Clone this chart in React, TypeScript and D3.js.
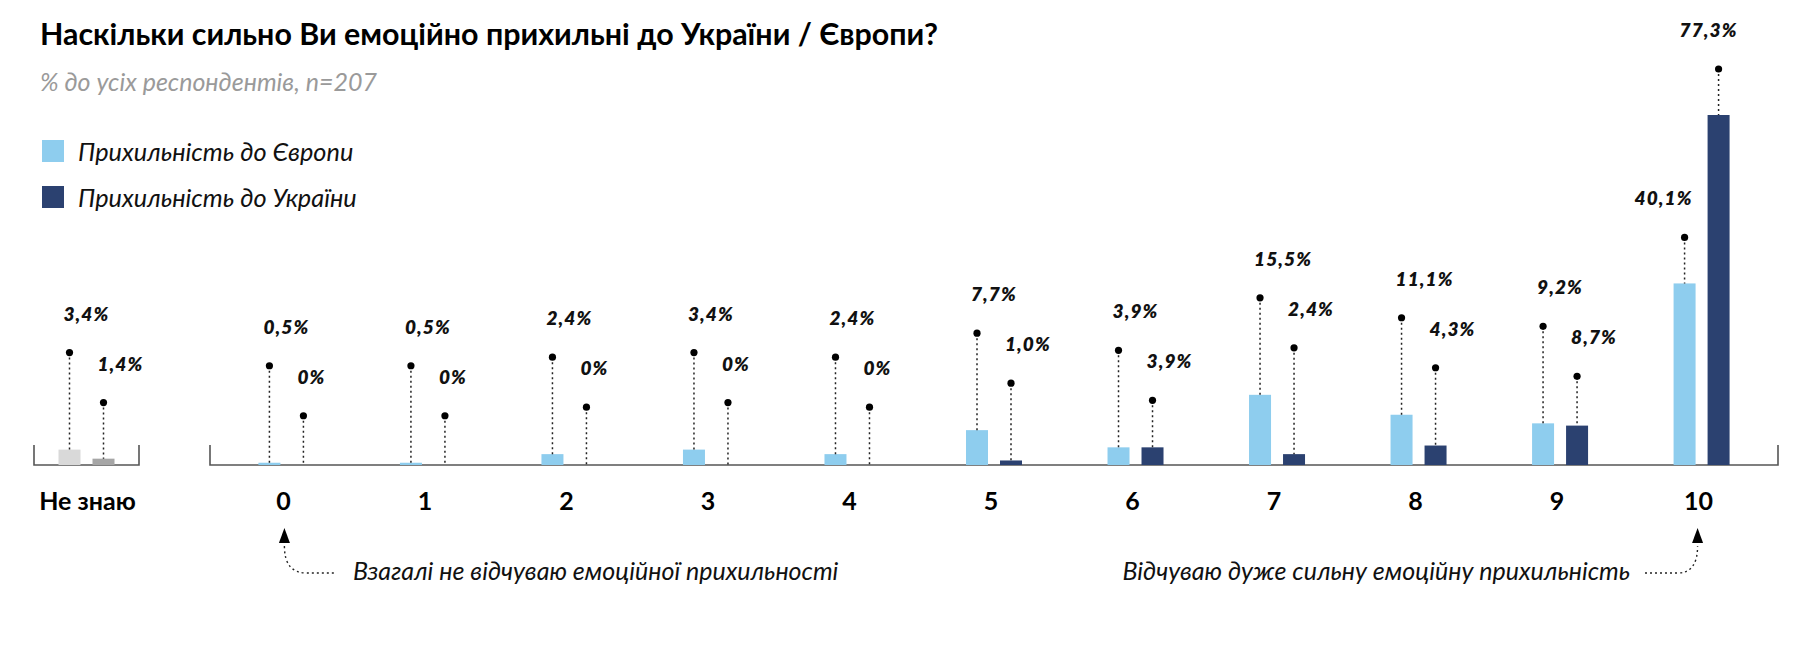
import React from 'react';
import * as d3 from 'd3';

const categories = ['0', '1', '2', '3', '4', '5', '6', '7', '8', '9', '10'];
const europe = [0.5, 0.5, 2.4, 3.4, 2.4, 7.7, 3.9, 15.5, 11.1, 9.2, 40.1];
const ukraine = [0, 0, 0, 0, 0, 1.0, 3.9, 2.4, 4.3, 8.7, 77.3];
const dkCategory = ['Не знаю'];
const dkEurope = [3.4];
const dkUkraine = [1.4];
const seriesNames = ['Прихильність до Європи', 'Прихильність до України'];
const title = 'Наскільки сильно Ви емоційно прихильні до України / Європи?';
const subtitle = '% до усіх респондентів, n=207';
const noteLow = 'Взагалі не відчуваю емоційної прихильності';
const noteHigh = 'Відчуваю дуже сильну емоційну прихильність';

const W = 1809;
const H = 653;
const FONT = 'Lato, "Open Sans", sans-serif';
const C_EU = '#8ecdee';
const C_UA = '#2b4170';
const C_DK_EU = '#d9d9d9';
const C_DK_UA = '#a6a6a6';
const AXIS = '#555';

const fmt = (v: number) => (v === 0 ? '0%' : v.toFixed(1).replace('.', ',') + '%');

const baseY = 465;
const y = d3.scaleLinear().domain([0, 77.3]).range([baseY, 115]);
const x = d3.scalePoint<string>().domain(categories).range([210, 1778]).padding(0.54);
const xDk = d3.scalePoint<string>().domain(dkCategory).range([34, 139]).padding(0.5);
const inner = d3.scaleBand<string>().domain(['eu', 'ua']).range([-28, 28]).paddingInner(0.353);

type Pair = { cx: number; eu: number; ua: number; cEu: string; cUa: string };

function Group({ cx, eu, ua, cEu, cUa }: Pair) {
  const bw = inner.bandwidth();
  const xEu = cx + (inner('eu') as number);
  const xUa = cx + (inner('ua') as number);
  const topEu = y(eu);
  const topUa = y(ua);
  const tall = ua > eu;
  const dotEu = tall ? topEu - 46 : topEu - 97;
  const dotUa = tall ? topUa - 46 : dotEu + 50;
  const mEu = xEu + bw / 2;
  const mUa = xUa + bw / 2;
  const labelStyle = {
    fontFamily: FONT,
    fontWeight: 800,
    fontStyle: 'italic' as const,
    fontSize: 19,
    letterSpacing: 1.1,
    fill: '#111',
  };
  return (
    <g>
      {eu > 0 && <rect x={xEu} y={topEu} width={bw} height={baseY - topEu} fill={cEu} />}
      {ua > 0 && <rect x={xUa} y={topUa} width={bw} height={baseY - topUa} fill={cUa} />}
      <line x1={mEu} x2={mEu} y1={dotEu} y2={topEu} stroke="#222" strokeWidth={1.5} strokeDasharray="2 3" />
      <line x1={mUa} x2={mUa} y1={dotUa} y2={topUa} stroke="#222" strokeWidth={1.5} strokeDasharray="2 3" />
      <circle cx={mEu} cy={dotEu} r={3.6} fill="#000" />
      <circle cx={mUa} cy={dotUa} r={3.6} fill="#000" />
      <text
        x={tall ? mEu + 8 : mEu - 6}
        y={dotEu - 32}
        textAnchor={tall ? 'end' : 'start'}
        style={labelStyle}
      >
        {fmt(eu)}
      </text>
      <text x={tall ? mUa - 39 : mUa - 6} y={dotUa - 32} textAnchor="start" style={labelStyle}>
        {fmt(ua)}
      </text>
    </g>
  );
}

export default function App() {
  const tickStyle = { fontFamily: FONT, fontWeight: 700, fontSize: 25, fill: '#000' };
  const noteStyle = { fontFamily: FONT, fontStyle: 'italic' as const, fontSize: 25, fill: '#111' };
  const x0 = (x('0') as number) - 2;
  const x10 = (x('10') as number) - 4;
  return (
    <svg
      width={W}
      height={H}
      viewBox={`0 0 ${W} ${H}`}
      style={{ position: 'absolute', left: 0, top: 0, background: '#fff' }}
    >
      <text x={40} y={45} style={{ fontFamily: FONT, fontWeight: 700, fontSize: 30.4, fill: '#000' }}>
        {title}
      </text>
      <text x={40} y={91} style={{ fontFamily: FONT, fontStyle: 'italic', fontSize: 25, fill: '#9a9a9a' }}>
        {subtitle}
      </text>
      {seriesNames.map((s, i) => (
        <g key={s}>
          <rect x={42} y={140 + i * 46} width={22} height={22} fill={i === 0 ? C_EU : C_UA} />
          <text x={78} y={161 + i * 46} style={{ fontFamily: FONT, fontStyle: 'italic', fontSize: 25.3, fill: '#111' }}>
            {s}
          </text>
        </g>
      ))}

      {/* axes */}
      <path d={`M34,${baseY - 20}V${baseY}H139V${baseY - 20}`} fill="none" stroke={AXIS} strokeWidth={1.6} />
      <path d={`M210,${baseY - 20}V${baseY}H1778V${baseY - 20}`} fill="none" stroke={AXIS} strokeWidth={1.6} />

      {dkCategory.map((c, i) => (
        <Group key={c} cx={xDk(c) as number} eu={dkEurope[i]} ua={dkUkraine[i]} cEu={C_DK_EU} cUa={C_DK_UA} />
      ))}
      {categories.map((c, i) => (
        <Group key={c} cx={x(c) as number} eu={europe[i]} ua={ukraine[i]} cEu={C_EU} cUa={C_UA} />
      ))}

      {dkCategory.map((c) => (
        <text key={c} x={(xDk(c) as number) + 1} y={510} textAnchor="middle" style={tickStyle}>
          {c}
        </text>
      ))}
      {categories.map((c) => (
        <text key={c} x={(x(c) as number) - 3} y={510} textAnchor="middle" style={tickStyle}>
          {c}
        </text>
      ))}

      {/* annotations */}
      <path d={`M${x0},528L${x0 - 5.5},543H${x0 + 5.5}Z`} fill="#000" />
      <path
        d={`M${x0},546Q${x0},573 ${x0 + 22},573H336`}
        fill="none"
        stroke="#222"
        strokeWidth={1.4}
        strokeDasharray="2 3"
      />
      <text x={353} y={580} style={noteStyle}>
        {noteLow}
      </text>
      <path d={`M${x10},528L${x10 - 5.5},543H${x10 + 5.5}Z`} fill="#000" />
      <path
        d={`M1645,573H${x10 - 20}Q${x10},573 ${x10},546`}
        fill="none"
        stroke="#222"
        strokeWidth={1.4}
        strokeDasharray="2 3"
      />
      <text x={1630} y={580} textAnchor="end" style={noteStyle}>
        {noteHigh}
      </text>
    </svg>
  );
}
